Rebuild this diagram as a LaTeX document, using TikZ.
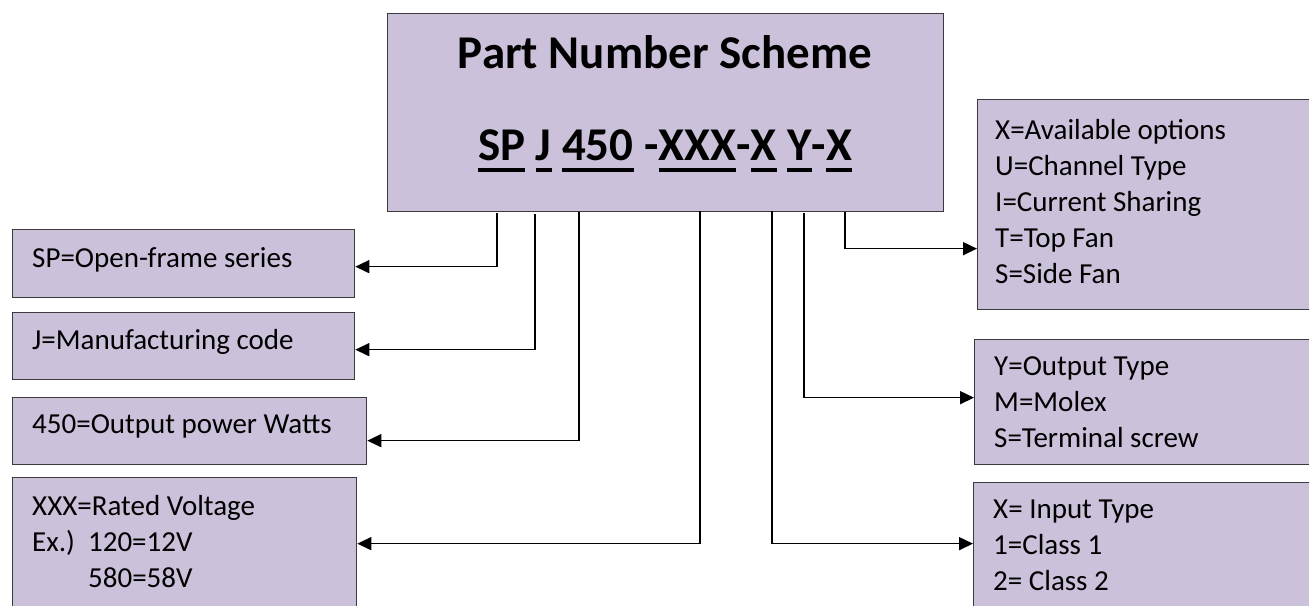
\documentclass[tikz,border=0pt]{standalone}
\usepackage{fontspec}
\setmainfont{Carlito}
\usetikzlibrary{arrows.meta}
\definecolor{lilac}{HTML}{CCC1DA}
\definecolor{edge}{HTML}{3A3A3A}
\newcommand\ubar[1]{\setbox0\hbox{#1}\rlap{\rule[-12pt]{\wd0}{4pt}}\box0\relax}
\tikzset{
  box/.style={draw=edge, fill=lilac, line width=1.3pt, anchor=north west, inner sep=0pt},
  txt/.style={anchor=base west, inner sep=0pt, align=left, font=\fontsize{29}{36}\selectfont},
  big/.style={anchor=base, inner sep=0pt, font=\fontsize{47}{52}\selectfont\bfseries},
  arr/.style={line width=1.6pt, -{Triangle[length=14pt,width=13pt]}}
}
\begin{document}
\begin{tikzpicture}[x=1pt,y=-1pt]
  \useasboundingbox (0,0) rectangle (1309,605);
  \clip (0,0) rectangle (1309,605);
  % heading
  \node[box, minimum width=556, minimum height=198] (scheme) at (387,13) {};
  \node[big] (head) at (665,68) {Part Number Scheme};
  \node[big] (code) at (665,160) {\ubar{SP} \ubar{J} \ubar{450} -\ubar{XXX}-\ubar{X} \ubar{Y}-\ubar{X}};
  % left side (multi-line texts sit on their last line)
  \node[box, minimum width=342, minimum height=68] (sp) at (12,229) {};
  \node[txt] (sptxt) at (32,267) {SP=Open-frame series};
  \node[box, minimum width=342, minimum height=67] (mfg) at (12,312) {};
  \node[txt] (mfgtxt) at (32,349) {J=Manufacturing code};
  \node[box, minimum width=354, minimum height=67] (watt) at (12,397) {};
  \node[txt] (watttxt) at (32,433) {450=Output power Watts};
  \node[box, minimum width=344, minimum height=160] (volt) at (12,477) {};
  \node[txt] (volttxt) at (32,587) {XXX=Rated Voltage\\Ex.)\ \ 120=12V\\\phantom{Ex.)\ \ }580=58V};
  % right side
  \node[box, minimum width=353, minimum height=210] (opt) at (977,99) {};
  \node[txt] (opttxt) at (995,283) {X=Available options\\U=Channel Type\\I=Current Sharing\\T=Top Fan\\S=Side Fan};
  \node[box, minimum width=356, minimum height=125] (outp) at (974,339) {};
  \node[txt] (outptxt) at (994,447) {Y=Output Type\\M=Molex\\S=Terminal screw};
  \node[box, minimum width=357, minimum height=160] (inp) at (973,482) {};
  \node[txt] (inptxt) at (993,590) {X= Input Type\\1=Class 1\\2= Class 2};
  % drop points under the code
  \coordinate (dsp) at (497,213);
  \coordinate (dmfg) at (535,214);
  \coordinate (dwatt) at (579,212);
  \coordinate (dvolt) at (700,211);
  \coordinate (dinp) at (772,211);
  \coordinate (doutp) at (804,213);
  \coordinate (dopt) at (845,212);
  \draw[arr] (dsp) |- ([yshift=-3pt]sp.east);
  \draw[arr] (dmfg) |- ([yshift=-3.5pt]mfg.east);
  \draw[arr] (dwatt) |- ([yshift=-9.5pt]watt.east);
  \draw[arr] (dvolt) |- ([yshift=14pt]volt.east);
  \draw[arr] (dopt) |- ([yshift=-44pt]opt.west);
  \draw[arr] (doutp) |- ([yshift=4.5pt]outp.west);
  \draw[arr] (dinp) |- ([yshift=19pt]inp.west);
\end{tikzpicture}
\end{document}
